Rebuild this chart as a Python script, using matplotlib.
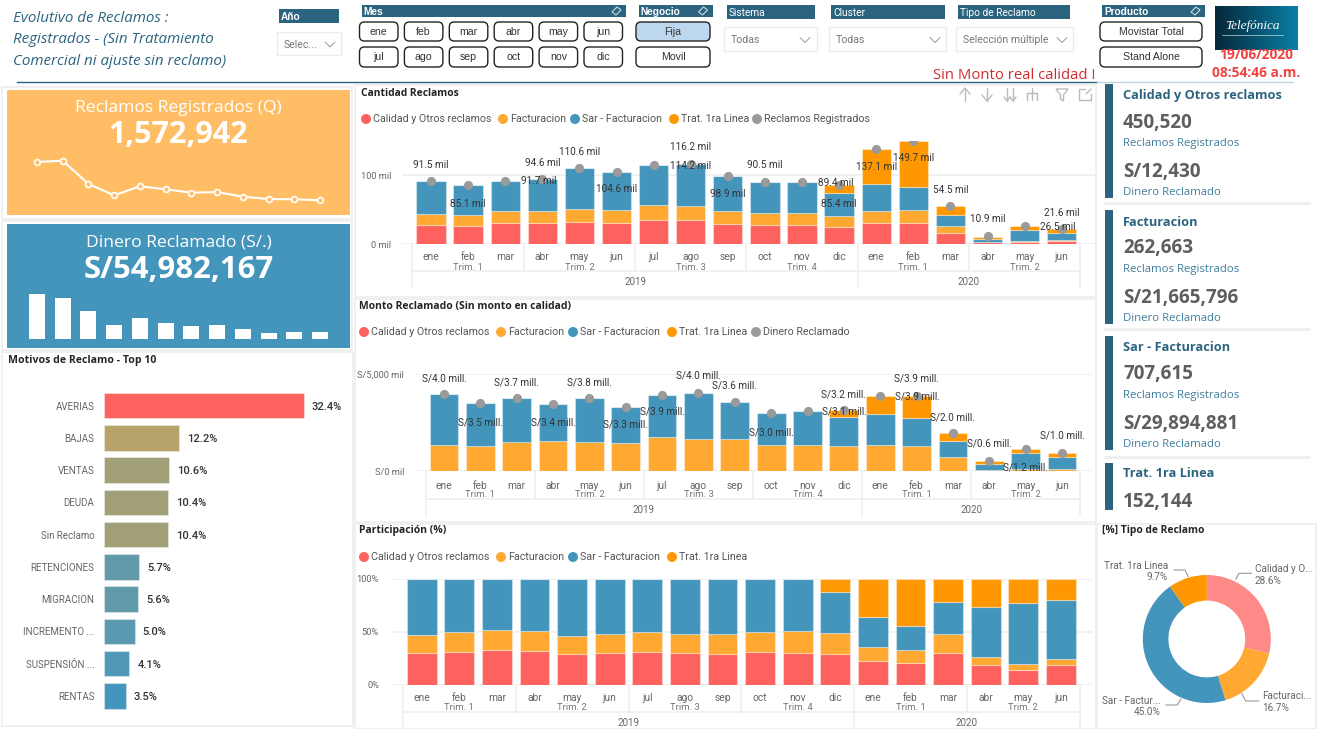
import numpy as np
import matplotlib
matplotlib.use("Agg")
import matplotlib.pyplot as plt
from matplotlib.patches import Rectangle, FancyBboxPatch, Circle, Polygon

W, H = 1325, 729

RED = "#FD625E"
YELLOW = "#FFA933"
BLUE = "#4495BC"
ORANGE = "#FF9800"
GRAY = "#9A9A9A"
TEAL = "#2C6480"
LINE = "#EFEFEF"

DIN = "Roboto"
SEGOE = "Open Sans"

months = ["ene", "feb", "mar", "abr", "may", "jun", "jul", "ago", "sep", "oct", "nov", "dic",
          "ene", "feb", "mar", "abr", "may", "jun"]
quarters = ["Trim. 1", "Trim. 2", "Trim. 3", "Trim. 4", "Trim. 1", "Trim. 2"]
years = ["2019", "2020"]

# Cantidad Reclamos (miles)
q_calidad = [28, 26.6, 30, 30, 32, 31, 35, 35, 29, 28, 27, 25, 31, 31, 16.4, 2.4, 3.4, 3.9]
q_factura = [15.5, 15.4, 17.3, 17.8, 19, 19, 21.5, 20, 18.3, 16.4, 17.4, 16, 17.3, 17.8, 9.6, 1, 1.4, 1.9]
q_sar = [48, 43, 44, 46.4, 59.6, 54.6, 57.7, 61.2, 51.6, 46.1, 45, 33.4, 39.1, 33.8, 16.5, 4.3, 15, 10.6]
q_trat = [0, 0, 0, 0, 0, 0, 0, 0, 0, 0, 0, 11, 49.7, 66.7, 12.1, 2.9, 6.2, 4.9]
q_total = [91.5, 85.1, 91.7, 94.6, 110.6, 104.6, 114.2, 116.2, 98.9, 90.5, 89.4, 85.4,
           137.1, 149.7, 54.5, 10.9, 26.5, 21.6]
q_dx = [0, 0, 34, 0, 0, 0, 37, 0, 0, 0, 34, 0, 0, 0, 0, 0, 33, 0]
q_dy = [16, -19, 0, 16, 16, -17, -1, 17, -18, 17, -1, -19, -18, -17, 16, 17, -1, 16]

# Monto Reclamado (S/ millones)
m_calidad = [0] * 18
m_factura = [1.35, 1.31, 1.52, 1.54, 1.52, 1.47, 1.76, 1.66, 1.64, 1.35, 1.37, 1.30, 1.35, 1.30, 0.75, 0.05, 0.10, 0.12]
m_sar = [2.61, 2.17, 2.22, 1.89, 2.23, 1.84, 2.16, 2.37, 1.91, 1.62, 1.74, 1.50, 1.57, 1.43, 0.82, 0.34, 0.84, 0.63]
m_trat = [0, 0, 0, 0, 0, 0, 0, 0, 0, 0, 0, 0.34, 0.95, 1.14, 0.39, 0.14, 0.20, 0.21]
m_total = [3.96, 3.48, 3.74, 3.43, 3.75, 3.31, 3.92, 4.03, 3.55, 2.97, 3.11, 3.14, 3.87, 3.87, 1.96, 0.53, 1.14, 0.96]
m_labels = ["4.0", "3.5", "3.7", "3.4", "3.8", "3.3", "3.9", "4.0", "3.6", "3.0", "3.1", "3.2",
            "3.9", "3.9", "2.0", "0.6", "1.2", "1.0"]
m_dx = [0, 0, 0, 0, 0, 0, 0, 0, 0, 0, 37, 0, 37, 0, 0, 0, 0, 0]
m_dy = [16, -19, 16, -18, 16, -18, -17, 17, 17, -19, -1, 16, -1, 17, 16, 17, -18, 17]

# Participacion (%)
p_calidad = [30.3, 31.2, 33.1, 32.2, 29, 30, 31.2, 30.3, 29.3, 30.9, 30.3, 29.3, 22.4, 20.8, 30, 18.9, 14.2, 18.3]
p_factura = [17, 18.3, 18.6, 18.6, 17.4, 18, 18.6, 17.3, 18.7, 18.6, 20.2, 19.3, 13.2, 11.7, 18, 7, 5.4, 6]
p_sar = [52.7, 50.5, 48.3, 49.2, 53.6, 52, 50.2, 52.4, 52, 50.5, 49.5, 38.8, 28.1, 22.7, 29.9, 47.9, 57.7, 55.5]
p_trat = [0, 0, 0, 0, 0, 0, 0, 0, 0, 0, 0, 12.6, 36.3, 44.8, 22.1, 26.2, 22.7, 20.2]

# tarjetas
spark_q = [53, 54.3, 31, 19.7, 28.7, 25.7, 22.3, 23, 18.3, 16, 15.7, 14.7]
spark_m = [44.7, 41, 27.3, 13.7, 21, 15.7, 13, 13.7, 9.7, 5.3, 6.3, 6.7]

motivos = ["AVERIAS", "BAJAS", "VENTAS", "DEUDA", "Sin Reclamo", "RETENCIONES", "MIGRACION",
           "INCREMENTO ...", "SUSPENSIÓN ...", "RENTAS"]
motivos_pct = [32.4, 12.2, 10.6, 10.4, 10.4, 5.7, 5.6, 5.0, 4.1, 3.5]
motivos_col = ["#FD625E", "#B5A36A", "#A09F78", "#A09F78", "#A09F78", "#629AAA", "#629AAA",
               "#5A9AB0", "#4F98B7", "#4495BE"]

tipo_names = ["Calidad y O...", "Facturaci...", "Sar - Factur...", "Trat. 1ra Linea"]
tipo_pct = [28.6, 16.7, 45.0, 9.7]
tipo_col = ["#FE8A87", YELLOW, BLUE, ORANGE]

cards = [("Calidad y Otros reclamos", "450,520", "S/12,430"),
         ("Facturacion", "262,663", "S/21,665,796"),
         ("Sar - Facturacion", "707,615", "S/29,894,881"),
         ("Trat. 1ra Linea", "152,144", None)]

fig = plt.figure(figsize=(13.25, 7.29), dpi=100, facecolor="white")

bg = fig.add_axes([0, 0, 1, 1], zorder=0)
bg.set_xlim(0, W)
bg.set_ylim(H, 0)
bg.axis("off")


def box(x0, y0, x1, y1, fc="white", ec="none", lw=1.0):
    bg.add_patch(Rectangle((x0, y0), x1 - x0, y1 - y0, fc=fc, ec=ec, lw=lw))


def txt(x, y, s, size=8, color="#555555", font=DIN, ha="left", weight="normal", style="normal"):
    bg.text(x, y, s, fontsize=size, color=color, family=font, ha=ha, va="center",
            fontweight=weight, fontstyle=style)


def poly(xs, ys, color="#BBBBBB", lw=1.0):
    bg.plot(xs, ys, color=color, lw=lw, solid_capstyle="round")


def button(x0, y0, x1, y1, label, fc="white"):
    bg.add_patch(FancyBboxPatch((x0 + 4, y0 + 4), x1 - x0 - 8, y1 - y0 - 8,
                                boxstyle="round,pad=4,rounding_size=5", fc=fc, ec="#222222", lw=1.0))
    txt((x0 + x1) / 2, (y0 + y1) / 2, label, size=7.6, color="#333333", font="Liberation Sans", ha="center")


def header(x0, x1, y1, label, bold=False, eraser=False, y0=5):
    box(x0, y0, x1, y1, fc=TEAL)
    txt(x0 + 2, (y0 + y1) / 2 + 0.5, label, size=7.3, color="white",
        font="Liberation Sans" if bold else DIN, weight="bold" if bold else "normal")
    if eraser:
        ex, ey = x1 - 9, (y0 + y1) / 2
        bg.add_patch(Polygon([(ex - 5, ey + 1), (ex, ey - 4), (ex + 4, ey - 1), (ex - 1, ey + 4)],
                             fc="none", ec="#C9D8E0", lw=0.8))


def dropdown(x0, x1, y0, y1, label, chev):
    box(x0, y0, x1, y1, ec="#ECECEC")
    txt(x0 + 7, (y0 + y1) / 2 + 1, label, size=7.6, color="#777777")
    my = (y0 + y1) / 2 + 1
    poly([chev - 5, chev, chev + 5], [my - 2.5, my + 2.5, my - 2.5], color="#999999", lw=0.7)


# paneles
for x0, y0, x1, y1 in [(2, 87, 352, 219), (2, 221, 352, 350), (2, 352, 353, 726),
                       (355, 85, 1096, 297), (355, 299, 1096, 522), (355, 524, 1096, 729),
                       (1097, 524, 1316, 729)]:
    box(x0, y0, x1, y1, ec=LINE, lw=1.3)

# cabecera
for i, s in enumerate(["Evolutivo de Reclamos :", "Registrados - (Sin Tratamiento",
                       "Comercial ni ajuste sin reclamo)"]):
    txt(13, 18 + 21.5 * i, s, size=10.9, color=TEAL, font=SEGOE, style="italic")
header(279, 339, 23, "Año", bold=True, y0=9)
dropdown(277, 341, 32, 55, "Selec...", 330)
header(361.5, 626, 17, "Mes", bold=True, eraser=True)
for i, m in enumerate(months[:12]):
    cx0 = 359.5 + 44.9 * (i % 6)
    cy0, cy1 = (22, 41) if i < 6 else (47, 67)
    button(cx0, cy0, cx0 + 38.5, cy1, m)
header(638.5, 712.5, 17, "Negocio", bold=True, eraser=True)
button(636, 22, 710, 41, "Fija", fc="#BDD7EE")
button(636, 47, 710, 67, "Movil")
header(726.5, 815, 19, "Sistema")
dropdown(724, 817, 27, 51, "Todas", 805)
header(831, 944.5, 19, "Cluster")
dropdown(829, 946, 27, 51, "Todas", 935)
header(958, 1070, 19, "Tipo de Reclamo")
dropdown(956, 1073, 27, 51, "Selección múltiple", 1062)
header(1102, 1205, 17, "Producto", bold=True, eraser=True)
button(1100, 22, 1202, 41, "Movistar Total")
button(1100, 47, 1202, 67, "Stand Alone")

bg.imshow(np.linspace(0, 1, 64).reshape(1, -1), extent=(1215, 1297.6, 50, 6), aspect="auto",
          cmap=matplotlib.colors.LinearSegmentedColormap.from_list("logo", ["#06283A", "#0A7FA6"]), zorder=1)
bg.set_xlim(0, W)
bg.set_ylim(H, 0)
bg.text(1252, 26, "Telefónica", color="white", fontsize=9.5, family="Liberation Serif", style="italic",
        ha="center", va="center", zorder=2)
bg.plot([1222, 1283], [35, 35], color="#BFD9E4", lw=0.5, zorder=2)
txt(1256, 55, "19/06/2020", size=9.9, color="#F04343", font=SEGOE, ha="center", weight="bold")
txt(1256, 73, "08:54:46 a.m.", size=9.9, color="#F04343", font=SEGOE, ha="center", weight="bold")
txt(1014, 75, "Sin Monto real calidad !", size=10.7, color="#D42B2F", font=SEGOE, ha="center")
bg.plot([17, 1097], [82, 82], color=TEAL, lw=1)
bg.plot([1097, 1293], [82, 82], color="#BFD3DE", lw=1)


def chart_ax(left, right, top, base, x0, step, ymax):
    ax = fig.add_axes([left / W, 1 - base / H, (right - left) / W, (base - top) / H], zorder=2)
    ax.patch.set_alpha(0)
    ax.set_xlim((left - x0) / step, (right - x0) / step)
    ax.set_ylim(0, ymax)
    for s in ax.spines.values():
        s.set_visible(False)
    ax.set_axisbelow(True)
    ax.yaxis.grid(True, color=LINE, lw=1.2)
    ax.xaxis.grid(False)
    ax.tick_params(length=0, labelsize=7.4, labelcolor="#666666")
    ax.tick_params(axis="y", labelsize=6.7, pad=8)
    ax.set_xticks(range(18))
    ax.set_xticklabels(months, family=DIN)
    return ax


def level_axis(x0, step, base, y_line, y_end, trim_y, year_y):
    seps = [x0 - step / 2 + 3 * k * step for k in range(7)]
    for k, sx in enumerate(seps):
        bg.plot([sx, sx], [base, y_end if k in (0, 4, 6) else y_line], color=LINE, lw=1.2)
    bg.plot([seps[0], seps[6]], [y_line, y_line], color=LINE, lw=1.2)
    for k, q in enumerate(quarters):
        txt(seps[k] + 1.5 * step, trim_y, q, size=6.8, color="#777777", ha="center")
    txt((seps[0] + seps[4]) / 2, year_y, years[0], size=7, color="#666666", ha="center")
    txt((seps[4] + seps[6]) / 2, year_y, years[1], size=7, color="#666666", ha="center")


def legend(y, items, xs):
    for (name, col), x in zip(items, xs):
        bg.add_patch(Circle((x, y), 5, fc=col, ec="none"))
        txt(x + 7, y, name, size=7.7, color="#555555")


def stacked(ax, series, colors, width=0.79):
    bottom = np.zeros(18)
    for vals, col in zip(series, colors):
        ax.bar(range(18), vals, bottom=bottom, width=width, color=col, edgecolor=(1, 1, 1, 0.35), lw=0.8)
        bottom = bottom + np.array(vals)


base_legend = [("Calidad y Otros reclamos", RED), ("Facturacion", YELLOW),
               ("Sar - Facturacion", BLUE), ("Trat. 1ra Linea", ORANGE)]
colors4 = [RED, YELLOW, BLUE, ORANGE]

# Cantidad Reclamos
txt(361, 93, "Cantidad Reclamos", size=7.4, color="#252423", font=SEGOE, weight="bold")
legend(119, base_legend + [("Reclamos Registrados", GRAY)], [366, 503, 575, 674, 757])
ax1 = chart_ax(402, 1095, 141, 244, 431, 37.1, 149.3)
ax1.set_yticks([0, 100])
ax1.set_yticklabels(["0 mil", "100 mil"], family=DIN)
ax1.tick_params(axis="x", pad=6)
stacked(ax1, [q_calidad, q_factura, q_sar, q_trat], colors4)
ax1.plot(range(18), q_total, "o", color=GRAY, ms=6.6, mew=0)
for i, v in enumerate(q_total):
    ax1.annotate(f"{v} mil", (i, v), xytext=(q_dx[i], q_dy[i]), textcoords="offset pixels",
                 ha="center", va="center", fontsize=7.2, color="#333333", family=DIN, annotation_clip=False)
level_axis(431, 37.1, 244, 271, 287, 267, 282)

# iconos de la barra del visual
poly([965, 965], [88, 101])
poly([960, 965, 970], [94, 88, 94])
poly([987, 987], [88, 101])
poly([982, 987, 992], [95, 101, 95])
for ix in (1007, 1013):
    poly([ix, ix], [88, 101])
    poly([ix - 3, ix, ix + 3], [97, 101, 97])
poly([1032, 1032], [88, 100])
poly([1027, 1037], [93, 93])
poly([1027, 1027], [93, 100])
poly([1037, 1037], [93, 100])
bg.add_patch(Polygon([(1056, 89), (1068, 89), (1063.5, 95), (1063.5, 101), (1060.5, 99), (1060.5, 95)],
                     fc="none", ec="#BBBBBB", lw=1))
poly([1085, 1079, 1079, 1091, 1091], [89, 89, 100, 100, 94])
poly([1086, 1091], [94, 89])

# Monto Reclamado
txt(359, 306, "Monto Reclamado (Sin monto en calidad)", size=7.5, color="#252423", font=SEGOE, weight="bold")
legend(332, base_legend + [("Dinero Reclamado", GRAY)], [364, 501, 573, 672, 756])
ax2 = chart_ax(415, 1092, 373.7, 471.3, 444, 36.35, 5)
ax2.set_yticks([0, 5])
ax2.set_yticklabels(["S/0 mil", "S/5,000 mil"], family=DIN)
ax2.tick_params(axis="x", pad=7)
stacked(ax2, [m_calidad, m_factura, m_sar, m_trat], colors4)
ax2.plot(range(18), m_total, "o", color=GRAY, ms=6.6, mew=0)
for i, v in enumerate(m_total):
    ax2.annotate(f"S/{m_labels[i]} mill.", (i, v), xytext=(m_dx[i], m_dy[i]), textcoords="offset pixels",
                 ha="center", va="center", fontsize=7.2, color="#333333", family=DIN, annotation_clip=False)
level_axis(444, 36.35, 471.3, 499, 515, 494, 510)

# Participacion
txt(359, 531, "Participación (%)", size=7.5, color="#252423", font=SEGOE, weight="bold")
legend(557, base_legend, [364, 501, 573, 672])
ax3 = chart_ax(390, 1092, 579, 684.7, 421.7, 37.6, 100)
ax3.set_yticks([0, 50, 100])
ax3.set_yticklabels(["0%", "50%", "100%"], family=DIN)
ax3.tick_params(axis="x", pad=6)
stacked(ax3, [p_calidad, p_factura, p_sar, p_trat], colors4)
level_axis(421.7, 37.6, 684.7, 712, 728, 708, 723)

# KPI naranja
box(7, 90, 350, 215, fc="#FFBE66")
txt(178.5, 108, "Reclamos Registrados (Q)", size=12.6, color="white", font=SEGOE, ha="center")
txt(178.5, 135, "1,572,942", size=22, color="white", font=SEGOE, ha="center", weight="bold")
sp1 = fig.add_axes([24.1 / W, 1 - 215 / H, 308.8 / W, 60 / H], zorder=2)
sp1.axis("off")
sp1.set_xlim(-0.5, 11.5)
sp1.set_ylim(0, 60)
sp1.plot(range(12), spark_q, color="white", lw=1.5, marker="o", ms=4.2, mfc="#FFBE66", mec="white", mew=1.2)

# KPI azul
box(7, 224, 350, 348, fc=BLUE)
txt(178.5, 242, "Dinero Reclamado (S/.)", size=12.6, color="white", font=SEGOE, ha="center")
txt(178.5, 270, "S/54,982,167", size=22.4, color="white", font=SEGOE, ha="center", weight="bold")
sp2 = fig.add_axes([24.1 / W, 1 - 338.7 / H, 308.8 / W, 50.7 / H], zorder=2)
sp2.axis("off")
sp2.set_xlim(-0.5, 11.5)
sp2.set_ylim(0, 50.7)
sp2.bar(range(12), spark_m, width=0.62, color="white")

# Motivos
txt(8, 360, "Motivos de Reclamo - Top 10", size=7.6, color="#252423", font=SEGOE, weight="bold")
ax4 = fig.add_axes([104 / W, 1 - 712 / H, 216 / W, (712 - 389.5) / H], zorder=2)
ax4.patch.set_alpha(0)
for s in ax4.spines.values():
    s.set_visible(False)
ax4.barh(range(10), motivos_pct, height=0.785, color=motivos_col, edgecolor=(1, 1, 1, 0.35), lw=0.8)
ax4.set_xlim(0, 216 / 6.16)
ax4.set_ylim(9.5, -0.5)
ax4.set_xticks([])
ax4.set_yticks(range(10))
ax4.set_yticklabels(motivos, family=DIN, fontsize=7, color="#666666")
ax4.tick_params(length=0, pad=7)
for i, v in enumerate(motivos_pct):
    ax4.annotate(f"{v:.1f}%", (v, i), xytext=(8, -1), textcoords="offset pixels", va="center",
                 fontsize=8, color="#333333", family=DIN, fontweight="medium", annotation_clip=False)

# tarjetas derecha
bars_y = [(84, 198), (210, 324), (336, 450), (463, 510)]
rows_y = [(95, 123, 143, 172, 192), (222, 248, 269, 298, 318), (347, 374, 395, 424, 444), (473, 502, 0, 0, 0)]
for (name, q, m), (b0, b1), r in zip(cards, bars_y, rows_y):
    box(1105, b0, 1113, b1, fc=TEAL)
    txt(1123, r[0], name, size=9.2, color=TEAL, font=SEGOE, weight="bold")
    txt(1123, r[1], q, size=13.6, color="#605E5C", font=SEGOE, weight="bold")
    if m:
        txt(1123, r[2], "Reclamos Registrados", size=8.2, color="#3F7D9C", font=SEGOE)
        txt(1123, r[3], m, size=13.6, color="#605E5C", font=SEGOE, weight="bold")
        txt(1123, r[4], "Dinero Reclamado", size=8.2, color="#3F7D9C", font=SEGOE)
for y in (203, 329, 457):
    bg.plot([1105, 1309], [y, y], color=LINE, lw=2)

# Tipo de reclamo
txt(1102, 531, "[%] Tipo de Reclamo", size=7.4, color="#252423", font=SEGOE, weight="bold")
ax5 = fig.add_axes([(1206.8 - 64) / W, 1 - (639 + 64) / H, 128 / W, 128 / H], zorder=2)
ax5.pie(tipo_pct, colors=tipo_col, startangle=90, counterclock=False, radius=1,
        wedgeprops={"width": 0.4, "linewidth": 0})
ax5.set_xlim(-1, 1)
ax5.set_ylim(-1, 1)
tipo_text = [(1255, 569, 581, "left"), (1262, 696, 708, "left"), (1161, 701, 712, "right"), (1168, 566, 577, "right")]
leaders = [([1235.7, 1239, 1251.7], [579.3, 573.3, 573.3]), ([1241.7, 1245.7, 1259], [693.3, 701, 701]),
           ([1181, 1177.3, 1165.7], [699, 705, 705]), ([1188.3, 1185, 1174], [576.7, 570, 570])]
for name, pct, (tx, y0, y1, ha), (lx, ly) in zip(tipo_names, tipo_pct, tipo_text, leaders):
    txt(tx, y0, name, size=7.2, color="#666666", ha=ha)
    txt(tx, y1, f"{pct:.1f}%", size=7.2, color="#666666", ha=ha)
    poly(lx, ly, color="#999999", lw=0.8)

fig.savefig("out.png", dpi=100)
